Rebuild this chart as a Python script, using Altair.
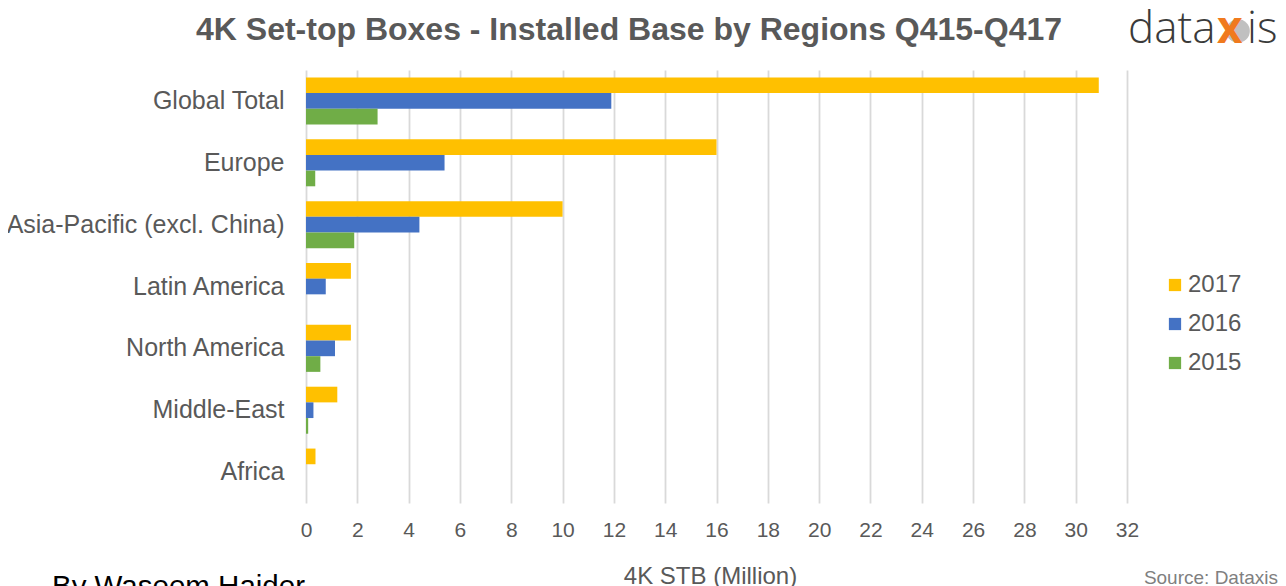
import altair as alt
import pandas as pd

regions = ["Global Total ", "Europe", "Asia-Pacific (excl. China)", "Latin America",
           "North America", "Middle-East", "Africa"]
years = ["2017", "2016", "2015"]
v2017 = [30.9, 16.0, 10.0, 1.75, 1.75, 1.22, 0.37]
v2016 = [11.9, 5.4, 4.42, 0.77, 1.13, 0.29, 0.0]
v2015 = [2.79, 0.36, 1.88, 0.0, 0.56, 0.085, 0.0]
colors = ["#FFC000", "#4472C4", "#70AD47"]
x_ticks = list(range(0, 33, 2))

rows = []
for yr, vals in zip(years, [v2017, v2016, v2015]):
    for r, v in zip(regions, vals):
        rows.append({"region": r, "year": yr, "value": v})
df = pd.DataFrame(rows)

FONT = "Liberation Sans"
GREY = "#595959"

bars = alt.Chart(df).mark_bar().encode(
    y=alt.Y("region:N", sort=regions,
            scale=alt.Scale(paddingInner=0.24, paddingOuter=0.12),
            axis=alt.Axis(title=None, labelFontSize=25, labelColor=GREY, labelFont=FONT,
                          ticks=False, domain=False, labelPadding=22, grid=False,
                          labelLimit=400)),
    yOffset=alt.YOffset("year:N", sort=years, scale=alt.Scale(paddingInner=0, paddingOuter=0)),
    x=alt.X("value:Q", scale=alt.Scale(domain=[0, 32], nice=False),
            axis=alt.Axis(title="4K STB (Million)", values=x_ticks, labelFontSize=21,
                          labelColor=GREY, labelFont=FONT, titleFont=FONT, titleFontSize=24,
                          titleColor=GREY, titleFontWeight="normal", ticks=False, domain=False,
                          labelPadding=16, titlePadding=24, gridColor="#d9d9d9",
                          gridWidth=1.8, titleX=404, labelFlush=False)),
    color=alt.Color("year:N", sort=years, scale=alt.Scale(domain=years, range=colors),
                    legend=alt.Legend(title=None, orient="none", legendX=857, legendY=203,
                                      symbolType="square", symbolSize=150, symbolStrokeWidth=0,
                                      labelFontSize=24, labelColor=GREY, labelFont=FONT,
                                      rowPadding=15, labelOffset=1)),
)

ann = pd.DataFrame({"t": [0]})

def txt(text, x, y, size, color, weight="normal", align="left", font=FONT):
    return alt.Chart(ann).mark_text(
        text=text, fontSize=size, color=color, fontWeight=weight, align=align,
        baseline="alphabetic", font=font
    ).encode(x=alt.value(x), y=alt.value(y))

title = txt("4K Set-top Boxes - Installed Base by Regions Q415-Q417", 323, -30, 32, GREY,
            weight="bold", align="center")
author = txt("By Waseem Haider", -254, 526, 29.5, "#000000")
source = txt("Source: Dataxis", 972, 514, 19, "#7f7f7f", align="right")
sphere = alt.Chart(ann).mark_point(filled=True, shape="circle", size=560, color="#b0b0b0",
                                   opacity=0.8).encode(x=alt.value(932), y=alt.value(-39))
logo1 = txt("data", 822, -27, 44, "#3a3a3a", weight=300, font="Open Sans")
logo2 = txt("x", 911, -27, 44, "#f07a1e", weight="bold", font="Open Sans")
logo3 = txt("is", 941, -27, 44, "#3a3a3a", weight=300, font="Open Sans")

chart = alt.layer(bars, sphere, title, author, source, logo1, logo2, logo3).properties(
    width=821, height=433,
    background="white",
    autosize=alt.AutoSizeParams(type="none"),
    padding={"left": 298, "top": 62, "right": 151, "bottom": 92},
).configure_view(strokeWidth=0, stroke=None)

chart.save("out.html", embed_options={"renderer": "svg", "actions": False})
